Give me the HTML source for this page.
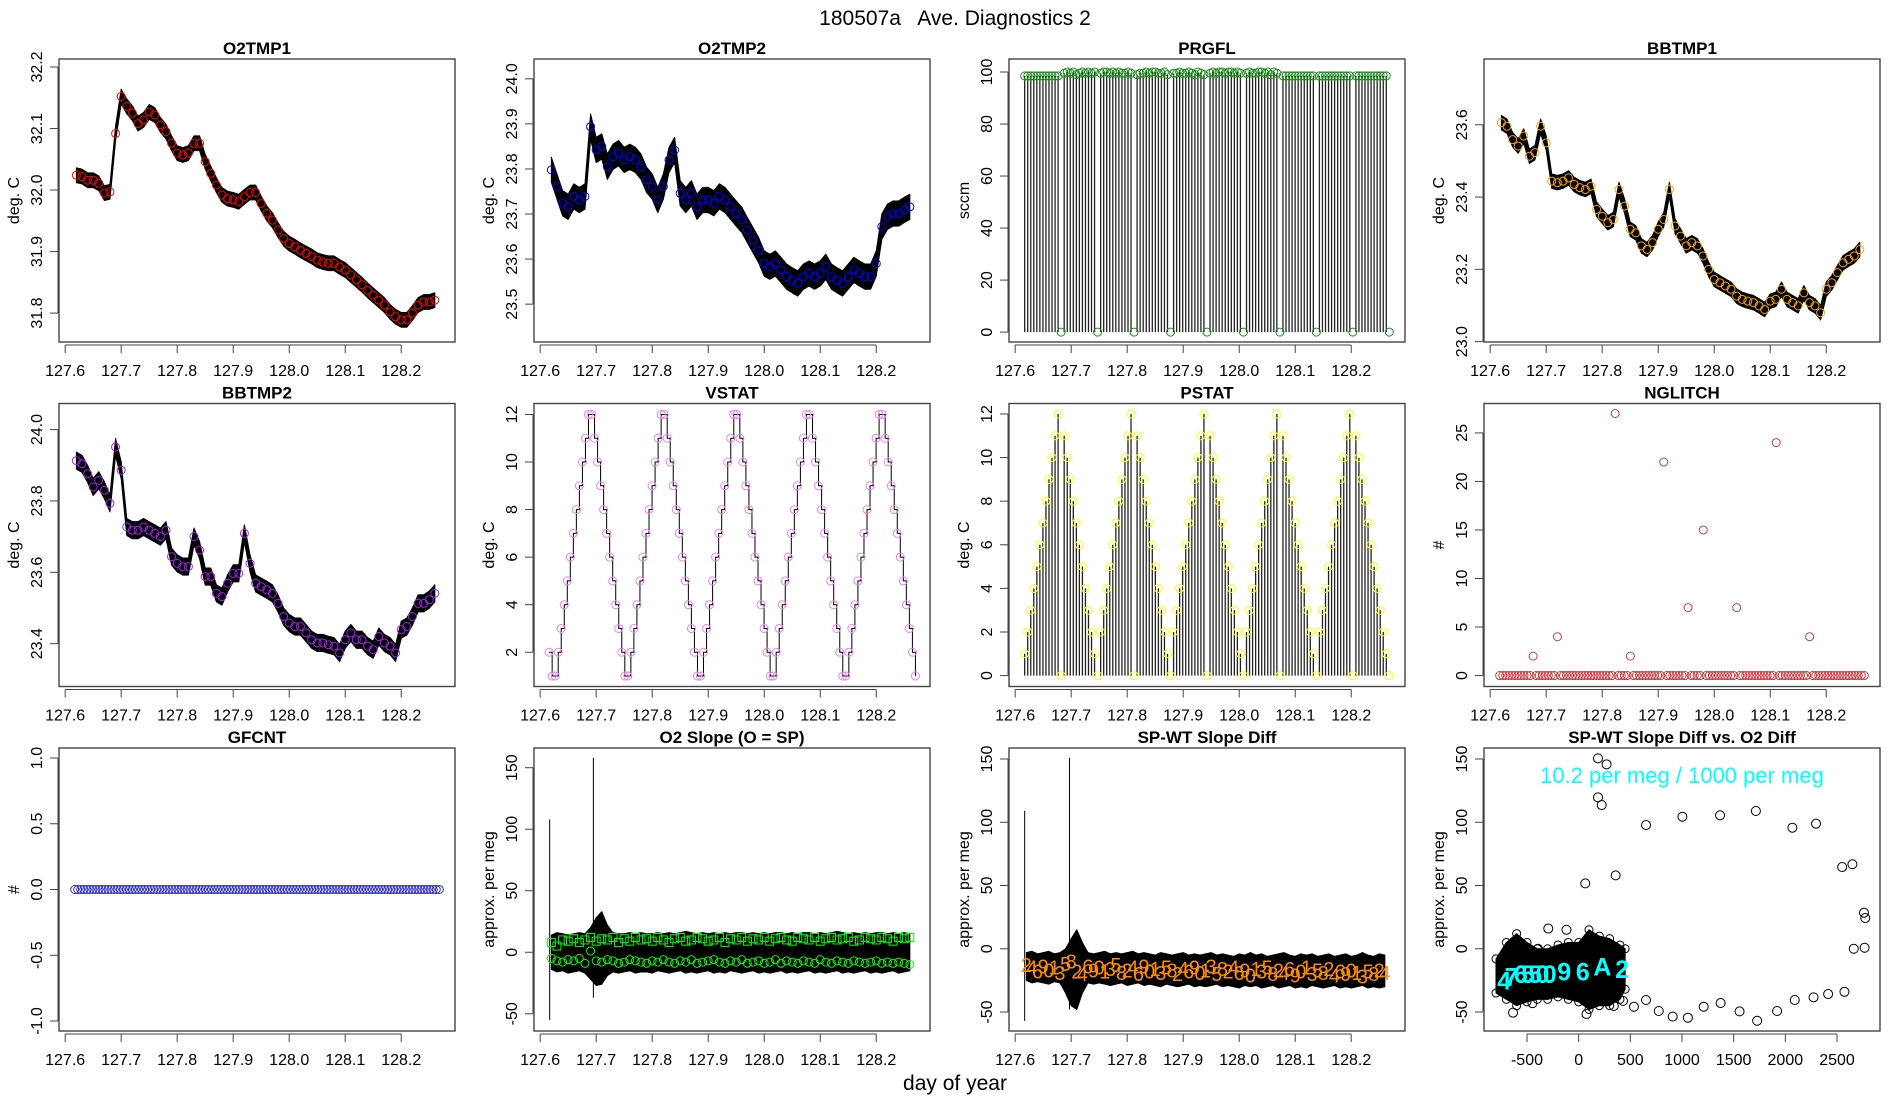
<!DOCTYPE html>
<html><head><meta charset="utf-8">
<style>
html,body{margin:0;padding:0;background:#fff;}
svg{display:block;font-family:"Liberation Sans",Arial,sans-serif;}
</style></head>
<body>
<svg id="fig" width="1900" height="1100" viewBox="0 0 1900 1100" xmlns="http://www.w3.org/2000/svg">
<rect x="0" y="0" width="1900" height="1100" fill="#fff"/>
<text x="955" y="25" font-size="21" text-anchor="middle" style="white-space:pre">180507a   Ave. Diagnostics 2</text>
<text x="955" y="1090" font-size="21" text-anchor="middle">day of year</text>
</svg>
<script>
// ---------- data ----------
const dayTicks = [127.6,127.7,127.8,127.9,128.0,128.1,128.2];
const dayTickLabels = ["127.6","127.7","127.8","127.9","128.0","128.1","128.2"];

const o2tmp1 = [32.024,32.022,32.016,32.016,32.011,31.995,31.997,32.092,32.152,32.136,32.125,32.108,32.114,32.127,32.122,32.106,32.095,32.076,32.060,32.057,32.060,32.076,32.076,32.046,32.027,32.008,31.992,31.986,31.984,31.981,31.989,31.996,31.996,31.978,31.962,31.951,31.935,31.921,31.913,31.908,31.902,31.897,31.892,31.886,31.883,31.881,31.881,31.875,31.870,31.862,31.854,31.846,31.837,31.829,31.821,31.813,31.802,31.794,31.789,31.789,31.800,31.813,31.818,31.818,31.821];
const o2tmp1Ticks = [31.8,31.9,32.0,32.1,32.2];
const o2tmp1Labels = ["31.8","31.9","32.0","32.1","32.2"];

const o2tmp2 = [23.798,23.761,23.724,23.716,23.739,23.731,23.739,23.894,23.842,23.850,23.805,23.827,23.835,23.820,23.827,23.820,23.805,23.776,23.761,23.731,23.761,23.820,23.842,23.746,23.731,23.746,23.716,23.731,23.731,23.724,23.739,23.731,23.716,23.701,23.687,23.664,23.642,23.620,23.590,23.583,23.590,23.576,23.561,23.553,23.546,23.561,23.568,23.561,23.568,23.583,23.561,23.553,23.546,23.561,23.576,23.568,23.561,23.561,23.590,23.672,23.694,23.701,23.701,23.709,23.716];
const o2tmp2Ticks = [23.5,23.6,23.7,23.8,23.9,24.0];
const o2tmp2Labels = ["23.5","23.6","23.7","23.8","23.9","24.0"];

const prgfl = [98.5,98.5,98.5,98.5,98.5,98.5,98.5,98.5,98.5,98.5,98.5,98.5,0,
 99.5,100,99.5,100,99,99.5,100,99.5,100,99.5,100,0,
 99.5,100,100,99.5,100,99.5,100,99.5,99.5,100,99.5,0,
 99,99.5,99.5,100,99.5,100,100,99.5,99.5,100,99,0,
 99.5,99.5,100,99.5,99.5,100,99.5,99,100,99.5,99,0,
 99.5,100,99.5,100,100,99.5,100,100,99.5,100,99.5,0,
 99.5,100,99.5,99.5,100,100,99.5,100,99,100,99.5,0,
 98.5,98.5,98.5,98.5,98.5,98.5,98.5,98.5,98.5,98.5,98.5,0,
 98.5,98.5,98.5,98.5,98.5,98.5,98.5,98.5,98.5,98.5,98.5,0,
 98.5,98.5,98.5,98.5,98.5,98.5,98.5,98.5,98.5,98.5,98.5,0];
const prgflTicks = [0,20,40,60,80,100];
const prgflLabels = ["0","20","40","60","80","100"];

const bbtmp1 = [23.606,23.596,23.559,23.541,23.569,23.513,23.523,23.596,23.550,23.444,23.440,23.444,23.453,23.435,23.426,23.421,23.430,23.366,23.347,23.329,23.338,23.421,23.375,23.311,23.301,23.265,23.255,23.274,23.311,23.338,23.421,23.320,23.292,23.265,23.274,23.265,23.237,23.200,23.172,23.163,23.154,23.145,23.126,23.117,23.112,23.108,23.099,23.089,23.112,23.117,23.145,23.117,23.108,23.099,23.135,23.108,23.099,23.080,23.145,23.163,23.191,23.218,23.228,23.237,23.255];
const bbtmp1Ticks = [23.0,23.2,23.4,23.6];
const bbtmp1Labels = ["23.0","23.2","23.4","23.6"];

const bbtmp2 = [23.913,23.904,23.876,23.839,23.858,23.830,23.793,23.951,23.886,23.727,23.718,23.718,23.727,23.718,23.709,23.700,23.718,23.644,23.625,23.616,23.616,23.700,23.662,23.588,23.588,23.541,23.532,23.569,23.597,23.597,23.709,23.625,23.569,23.560,23.551,23.541,23.513,23.476,23.458,23.448,23.448,23.430,23.411,23.402,23.402,23.397,23.393,23.374,23.411,23.430,23.411,23.411,23.393,23.383,23.420,23.402,23.393,23.374,23.439,23.448,23.476,23.513,23.513,23.523,23.541];
const bbtmp2Ticks = [23.4,23.6,23.8,24.0];
const bbtmp2Labels = ["23.4","23.6","23.8","24.0"];

const vstat = [2,
 1,1,2,3,4,5,6,7,8,9,10,11,12,12,11,10,9,8,7,6,5,4,3,2,
 1,1,2,3,4,5,6,7,8,9,10,11,12,12,11,10,9,8,7,6,5,4,3,2,
 1,1,2,3,4,5,6,7,8,9,10,11,12,12,11,10,9,8,7,6,5,4,3,2,
 1,1,2,3,4,5,6,7,8,9,10,11,12,12,11,10,9,8,7,6,5,4,3,2,
 1,1,2,3,4,5,6,7,8,9,10,11,12,12,11,10,9,8,7,6,5,4,3,2,
 1];
const vstatTicks = [2,4,6,8,10,12];
const vstatLabels = ["2","4","6","8","10","12"];

const pstat = [1,2,3,4,5,6,7,8,9,10,11,12,0,11,10,9,8,7,6,5,4,3,2,1,
 0,2,3,4,5,6,7,8,9,10,11,12,0,11,10,9,8,7,6,5,4,3,2,1,
 0,2,3,4,5,6,7,8,9,10,11,12,0,11,10,9,8,7,6,5,4,3,2,1,
 0,2,3,4,5,6,7,8,9,10,11,12,0,11,10,9,8,7,6,5,4,3,2,1,
 0,2,3,4,5,6,7,8,9,10,11,12,0,11,10,9,8,7,6,5,4,3,2,1,
 0];
const pstatTicks = [0,2,4,6,8,10,12];
const pstatLabels = ["0","2","4","6","8","10","12"];

const nglitch = [0,0,0,0,0,0,0,0,0,0,0,2,0,0,0,0,0,0,0,4,
 0,0,0,0,0,0,0,0,0,0,0,0,0,0,0,0,0,0,27,0,
 0,0,0,2,0,0,0,0,0,0,0,0,0,0,22,0,0,0,0,0,
 0,0,7,0,0,0,0,15,0,0,0,0,0,0,0,0,0,0,7,0,
 0,0,0,0,0,0,0,0,0,0,0,24,0,0,0,0,0,0,0,0,
 0,0,4,0,0,0,0,0,0,0,0,0,0,0,0,0,0,0,0,0,0];
const nglitchTicks = [0,5,10,15,20,25];
const nglitchLabels = ["0","5","10","15","20","25"];

const gfcnt = [0,0,0,0,0,0,0,0,0,0,0,0,0,0,0,0,0,0,0,0,
 0,0,0,0,0,0,0,0,0,0,0,0,0,0,0,0,0,0,0,0,
 0,0,0,0,0,0,0,0,0,0,0,0,0,0,0,0,0,0,0,0,
 0,0,0,0,0,0,0,0,0,0,0,0,0,0,0,0,0,0,0,0,
 0,0,0,0,0,0,0,0,0,0,0,0,0,0,0,0,0,0,0,0,
 0,0,0,0,0,0,0,0,0,0,0,0,0,0,0,0,0,0,0,0,0];
const gfcntTicks = [-1,-0.5,0,0.5,1];
const gfcntLabels = ["-1.0","-0.5","0.0","0.5","1.0"];

const slopeHi = [14,16,15,14,15,16,15,20,28,33,22,16,15,15,16,15,16,15,15,16,15,16,15,16,17,16,15,16,15,16,15,16,15,16,16,15,16,15,16,15,16,16,15,16,15,16,16,15,16,15,16,17,16,15,16,15,16,15,16,16,15,16,15,16,15];
const slopeLo = [-14,-16,-15,-17,-16,-15,-17,-22,-27,-26,-19,-16,-17,-16,-15,-17,-16,-16,-17,-15,-16,-17,-16,-15,-17,-16,-17,-16,-15,-17,-16,-17,-15,-16,-17,-16,-15,-17,-16,-17,-16,-15,-17,-16,-17,-16,-15,-17,-16,-17,-16,-15,-17,-16,-17,-16,-15,-17,-16,-17,-16,-15,-17,-16,-15];
const slopeSq = [8,5,10,9,11,8,10,12,9,11,10,12,8,11,9,12,10,11,9,12,10,8,11,12,9,10,12,11,9,10,12,8,11,10,12,9,11,10,12,9,11,12,10,9,12,11,10,12,9,11,12,10,11,12,9,10,12,11,10,12,11,9,12,11,12];
const slopeCirc = [-5,-7,-8,-6,-7,-5,-9,1,-7,-8,-6,-7,-9,-8,-6,-7,-8,-9,-7,-8,-6,-8,-9,-7,-8,-6,-9,-8,-7,-6,-8,-9,-7,-8,-6,-9,-8,-7,-9,-8,-6,-9,-7,-8,-9,-7,-8,-9,-6,-8,-9,-7,-8,-9,-7,-8,-9,-8,-7,-9,-8,-9,-8,-9,-10];
const slopeSpikeT = [127.617,127.695];
const slopeSpikeHi = [108,158];
const slopeSpikeLo = [-55,-37];
const slopeTicks = [-50,0,50,100,150];
const slopeLabels = ["-50","0","50","100","150"];

const diffHi = [-3,-2,-4,-3,-2,-4,-3,0,8,15,5,-3,-4,-3,-2,-4,-3,-4,-3,-2,-4,-3,-4,-5,-3,-4,-5,-4,-3,-5,-4,-5,-4,-3,-5,-4,-5,-6,-4,-5,-3,-5,-4,-6,-5,-4,-3,-5,-6,-4,-5,-4,-6,-5,-4,-6,-5,-4,-6,-5,-3,-5,-6,-4,-5];
const diffLo = [-25,-27,-26,-27,-28,-26,-27,-35,-45,-48,-35,-27,-28,-27,-28,-29,-28,-27,-29,-28,-27,-29,-28,-29,-30,-28,-29,-30,-29,-28,-30,-29,-30,-29,-28,-30,-29,-30,-31,-29,-30,-29,-31,-30,-29,-31,-30,-29,-31,-30,-31,-29,-30,-31,-30,-29,-31,-30,-31,-30,-29,-31,-30,-31,-30];
const diffMarks = [-13,-15,-18,-14,-17,-15,-19,-12,-10,-18,-20,-14,-17,-15,-18,-16,-13,-19,-17,-15,-20,-14,-18,-16,-19,-15,-17,-20,-16,-18,-15,-19,-17,-14,-20,-16,-18,-15,-19,-17,-21,-16,-18,-15,-20,-17,-19,-16,-21,-18,-15,-20,-17,-19,-16,-21,-18,-20,-17,-19,-22,-18,-20,-17,-19];
const diffChars = ["2","4","6","9","0","1","3","5","8"];
const diffSpikeT = [127.617,127.697];
const diffSpikeHi = [109,151];
const diffSpikeLo = [-57,-48];

const scatX = [187,270,187,223,652,1004,1368,1715,2068,2297,2550,2649,2761,2773,2662,2767,64,358,2572,2414,2273,2091,1920,1727,1557,1374,1210,1057,910,775,652,535,429,340,-294,-118,-394,-635,76,-447];
const scatY = [150.5,145.8,119.7,113.6,97.8,104.4,105.5,108.9,95.7,98.9,64.6,66.8,28.5,24.3,0,0.8,51.7,58,-34,-35.8,-38.4,-40.5,-49.2,-56.9,-49.5,-42.9,-45.8,-54.5,-53.6,-49.2,-40.5,-45.8,-41.2,-45.2,16,15,0,-50.5,-51.6,-43];
const clusterX = [-800,-700,-600,-500,-400,-300,-200,-100,0,100,200,300,400,450];
const clusterLo = [-35,-40,-45,-42,-40,-40,-38,-40,-42,-48,-45,-45,-40,-32];
const clusterHi = [-8,5,12,5,0,0,3,5,5,15,10,8,3,0];
const cyanX = [-720,-650,-560,-490,-420,-350,-280,-140,40,230,420];
const cyanY = [-25,-22,-20,-20,-20,-20,-20,-18,-18,-14,-16];
const cyanCh = ["4","7","6","5","5","0","0","9","6","A","2"];
const scatXTicks = [-500,0,500,1000,1500,2000,2500];
const scatXLabels = ["-500","0","500","1000","1500","2000","2500"];

// ---------- drawing ----------
const NS = 'http://www.w3.org/2000/svg';
const svg = document.getElementById('fig');
function mk(tag, attrs, parent) {
  const e = document.createElementNS(NS, tag);
  for (const k in attrs) e.setAttribute(k, attrs[k]);
  (parent || svg).appendChild(e);
  return e;
}
function times(n, t0, t1) { const a = []; for (let i = 0; i < n; i++) a.push(t0 + i * (t1 - t0) / (n - 1)); return a; }
const DAYLIM = [127.589, 128.296];
const W = 396, H = 283;

function panel(col, row, name, title, ylim, yTicks, yLabels, yTitle, xlim, xTicks, xLabels) {
  const L = 59 + 475 * col, T = [59, 403.5, 748][row];
  const g = mk('g', {});
  
  
  const xs = v => L + (v - xlim[0]) / (xlim[1] - xlim[0]) * W;
  const ys = v => T + H - (v - ylim[0]) / (ylim[1] - ylim[0]) * H;
  const cid = 'clip-' + name;
  const cp = mk('clipPath', { id: cid }, g);
  mk('rect', { x: L, y: T, width: W, height: H }, cp);
  const plot = mk('g', { 'clip-path': 'url(#' + cid + ')' }, g);
  
  
  const ax = mk('g', {}, g);
  
  
  const box = mk('rect', { x: L, y: T, width: W, height: H, fill: 'none', stroke: '#444', 'stroke-width': 1.4 }, ax);
  
  
  const tt = mk('text', { x: L + W / 2, y: T - 5, 'font-size': 17, 'font-weight': 'bold', 'text-anchor': 'middle' }, ax);
  tt.textContent = title;
  
  
  const yb = T + H + 3;
  const xl = mk('line', { x1: xs(xTicks[0]), x2: xs(xTicks[xTicks.length - 1]), y1: yb, y2: yb, stroke: '#444', 'stroke-width': 1 }, ax);
  
  
  xTicks.forEach((v, i) => {
    const tk = mk('line', { x1: xs(v), x2: xs(v), y1: yb, y2: yb + 8, stroke: '#444', 'stroke-width': 1 }, ax);
    
    
    const lb = mk('text', { x: xs(v), y: T + H + 34, 'font-size': 16, 'text-anchor': 'middle' }, ax);
    lb.textContent = xLabels[i];
    
    
  });
  const xa = L - 1;
  const yl = mk('line', { x1: xa, x2: xa, y1: ys(yTicks[0]), y2: ys(yTicks[yTicks.length - 1]), stroke: '#444', 'stroke-width': 1 }, ax);
  
  
  yTicks.forEach((v, i) => {
    const tk = mk('line', { x1: xa - 8, x2: xa, y1: ys(v), y2: ys(v), stroke: '#444', 'stroke-width': 1 }, ax);
    
    
    const lb = mk('text', { transform: 'translate(' + (L - 17) + ',' + ys(v) + ') rotate(-90)', 'font-size': 16, 'text-anchor': 'middle' }, ax);
    lb.textContent = yLabels[i];
    
    
  });
  const yt = mk('text', { transform: 'translate(' + (L - 40) + ',' + (T + H / 2) + ') rotate(-90)', 'font-size': 16, 'text-anchor': 'middle' }, ax);
  yt.textContent = yTitle;
  
  
  return { plot, xs, ys };
}

function bandPoly(p, t, lo, hi, name, fill) {
  const pts = [];
  t.forEach((tt, i) => pts.push(p.xs(tt) + ',' + p.ys(hi[i])));
  for (let i = t.length - 1; i >= 0; i--) pts.push(p.xs(t[i]) + ',' + p.ys(lo[i]));
  const e = mk('polygon', { points: pts.join(' '), fill: fill || '#000', stroke: fill || '#000', 'stroke-width': 1, 'stroke-linejoin': 'round' }, p.plot);
  
  
}
function circles(p, t, vals, color, name, r) {
  vals.forEach((v, i) => {
    const c = mk('circle', { cx: p.xs(t[i]), cy: p.ys(v), r: r || 4, fill: 'none', stroke: color, 'stroke-width': 1 }, p.plot);
    
    
  });
}
function noisy(p, vals, hw, color, name) {
  const t = times(vals.length, 127.62, 128.26);
  bandPoly(p, t, vals.map(v => v - hw), vals.map(v => v + hw), name + '-noise-band');
  circles(p, t, vals, color, name + '-point');
}
function stems(p, t, vals, name) {
  vals.forEach((v, i) => {
    const l = mk('line', { x1: p.xs(t[i]), x2: p.xs(t[i]), y1: p.ys(0), y2: p.ys(v), stroke: '#222', 'stroke-width': 1.3 }, p.plot);
    
    
  });
}

// Row 1
let p = panel(0, 0, 'o2tmp1', 'O2TMP1', [31.753, 32.213], o2tmp1Ticks, o2tmp1Labels, 'deg. C', DAYLIM, dayTicks, dayTickLabels);
noisy(p, o2tmp1, 0.012, '#ff0000', 'o2tmp1');

p = panel(1, 0, 'o2tmp2', 'O2TMP2', [23.416, 24.044], o2tmp2Ticks, o2tmp2Labels, 'deg. C', DAYLIM, dayTicks, dayTickLabels);
noisy(p, o2tmp2, 0.028, '#0000ff', 'o2tmp2');

p = panel(2, 0, 'prgfl', 'PRGFL', [-3.8, 105], prgflTicks, prgflLabels, 'sccm', DAYLIM, dayTicks, dayTickLabels);
{ const t = times(prgfl.length, 127.617, 128.268); stems(p, t, prgfl, 'prgfl-stem'); circles(p, t, prgfl, '#228B22', 'prgfl-point'); }

p = panel(3, 0, 'bbtmp1', 'BBTMP1', [22.999, 23.782], bbtmp1Ticks, bbtmp1Labels, 'deg. C', DAYLIM, dayTicks, dayTickLabels);
noisy(p, bbtmp1, 0.02, '#FFA500', 'bbtmp1');

// Row 2
p = panel(0, 1, 'bbtmp2', 'BBTMP2', [23.28, 24.073], bbtmp2Ticks, bbtmp2Labels, 'deg. C', DAYLIM, dayTicks, dayTickLabels);
noisy(p, bbtmp2, 0.024, '#A020F0', 'bbtmp2');

p = panel(1, 1, 'vstat', 'VSTAT', [0.56, 12.46], vstatTicks, vstatLabels, 'deg. C', DAYLIM, dayTicks, dayTickLabels);
{
  const t = times(vstat.length, 127.616, 128.270);
  let d = '';
  vstat.forEach((v, i) => {
    if (i === 0) d += 'M' + p.xs(t[i]) + ',' + p.ys(v);
    else d += ' H' + p.xs(t[i]) + ' V' + p.ys(v);
  });
  const path = mk('path', { d: d, fill: 'none', stroke: '#000', 'stroke-width': 1 }, p.plot);
  
  
  circles(p, t, vstat, '#EE82EE', 'vstat-point');
}

p = panel(2, 1, 'pstat', 'PSTAT', [-0.5, 12.48], pstatTicks, pstatLabels, 'deg. C', DAYLIM, dayTicks, dayTickLabels);
{ const t = times(pstat.length, 127.617, 128.268); stems(p, t, pstat, 'pstat-stem'); circles(p, t, pstat, '#FFFF00', 'pstat-point'); }

p = panel(3, 1, 'nglitch', 'NGLITCH', [-1.13, 28.03], nglitchTicks, nglitchLabels, '#', DAYLIM, dayTicks, dayTickLabels);
{ const t = times(nglitch.length, 127.617, 128.268); circles(p, t, nglitch, '#C04040', 'nglitch-point'); }

// Row 3
p = panel(0, 2, 'gfcnt', 'GFCNT', [-1.076, 1.076], gfcntTicks, gfcntLabels, '#', DAYLIM, dayTicks, dayTickLabels);
{ const t = times(gfcnt.length, 127.617, 128.268); circles(p, t, gfcnt, '#3030B0', 'gfcnt-point'); }

p = panel(1, 2, 'o2slope', 'O2 Slope (O = SP)', [-64, 166], slopeTicks, slopeLabels, 'approx. per meg', DAYLIM, dayTicks, dayTickLabels);
{
  const t = times(slopeHi.length, 127.62, 128.26);
  bandPoly(p, t, slopeLo, slopeHi, 'o2slope-noise-band');
  slopeSpikeT.forEach((st, i) => {
    const l = mk('line', { x1: p.xs(st), x2: p.xs(st), y1: p.ys(slopeSpikeLo[i]), y2: p.ys(slopeSpikeHi[i]), stroke: '#000', 'stroke-width': 1 }, p.plot);
    
    
  });
  slopeSq.forEach((v, i) => {
    const r = mk('rect', { x: p.xs(t[i]) - 4, y: p.ys(v) - 4, width: 8, height: 8, fill: 'none', stroke: '#00ff00', 'stroke-width': 1 }, p.plot);
    
    
  });
  circles(p, t, slopeCirc, '#00ff00', 'o2slope-circle-point');
}

p = panel(2, 2, 'spwt', 'SP-WT Slope Diff', [-65, 158.7], slopeTicks, slopeLabels, 'approx. per meg', DAYLIM, dayTicks, dayTickLabels);
{
  const t = times(diffHi.length, 127.62, 128.26);
  bandPoly(p, t, diffLo, diffHi, 'spwt-noise-band');
  diffSpikeT.forEach((st, i) => {
    const l = mk('line', { x1: p.xs(st), x2: p.xs(st), y1: p.ys(diffSpikeLo[i]), y2: p.ys(diffSpikeHi[i]), stroke: '#000', 'stroke-width': 1 }, p.plot);
    
    
  });
  diffMarks.forEach((v, i) => {
    const tx = mk('text', { x: p.xs(t[i]), y: p.ys(v) + 7, 'font-size': 20, fill: '#FF8C00', 'text-anchor': 'middle' }, p.plot);
    tx.textContent = diffChars[i % diffChars.length];
    
    
  });
}

p = panel(3, 2, 'scatter', 'SP-WT Slope Diff vs. O2 Diff', [-65, 158.7], slopeTicks, slopeLabels, 'approx. per meg', [-916, 2916], scatXTicks, scatXLabels);
{
  bandPoly(p, clusterX, clusterLo, clusterHi, 'scatter-dense-cluster');
  clusterX.forEach((x, i) => {
    [clusterLo[i], clusterHi[i]].forEach(v => {
      const c = mk('circle', { cx: p.xs(x), cy: p.ys(v), r: 4, fill: 'none', stroke: '#000', 'stroke-width': 1 }, p.plot);
      
      
    });
  });
  scatX.forEach((x, i) => {
    const c = mk('circle', { cx: p.xs(x), cy: p.ys(scatY[i]), r: 4.5, fill: 'none', stroke: '#000', 'stroke-width': 1 }, p.plot);
    
    
  });
  cyanX.forEach((x, i) => {
    const tx = mk('text', { x: p.xs(x), y: p.ys(cyanY[i]) + 9, 'font-size': 25, 'font-weight': 'bold', fill: '#00FFFF', 'text-anchor': 'middle' }, p.plot);
    tx.textContent = cyanCh[i];
    
    
  });
  const ann = mk('text', { x: 1682, y: 783, 'font-size': 22, fill: '#00FFFF', 'text-anchor': 'middle' }, p.plot);
  ann.textContent = '10.2 per meg / 1000 per meg';
  
  
}
</script>
</body></html>
